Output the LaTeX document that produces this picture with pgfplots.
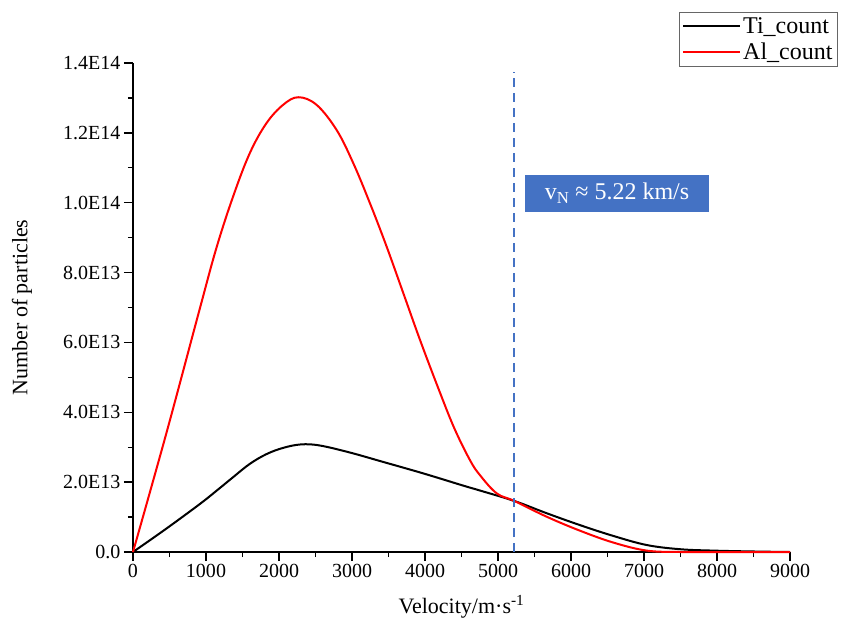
\documentclass[border=0pt]{standalone}
\usepackage{pgfplots}
\pgfplotsset{compat=1.18}
\usepackage{fontspec}
\setmainfont{Liberation Serif}
\definecolor{annblue}{HTML}{4472C4}
\begin{document}
\begin{tikzpicture}[x=1pt,y=1pt]
\begin{axis}[
  name=main,
  at={(0,0)}, anchor=south west,
  width=657pt, height=489pt, scale only axis,
  xmin=0, xmax=9000, ymin=0, ymax=1.4e14,
  axis lines*=left,
  axis line style={line width=1.4pt},
  tick style={line width=1.3pt, black},
  tick align=outside,
  major tick length=9pt, minor tick length=5pt,
  xtick={0,1000,2000,3000,4000,5000,6000,7000,8000,9000},
  minor x tick num=1,
  ytick={0,2e13,4e13,6e13,8e13,1e14,1.2e14,1.4e14},
  yticklabels={0.0,2.0E13,4.0E13,6.0E13,8.0E13,1.0E14,1.2E14,1.4E14},
  minor y tick num=1,
  scaled x ticks=false, scaled y ticks=false,
  xticklabel style={/pgf/number format/.cd, fixed, 1000 sep={}},
  /pgf/number format/assume math mode=true,
  ticklabel style={font=\fontsize{20}{22}\selectfont},
  xlabel={Velocity/m·s\textsuperscript{-1}},
  ylabel={Number of particles},
  xlabel style={at={(axis description cs:0.5,-0.1125)}, anchor=center, font=\fontsize{22}{25}\selectfont},
  ylabel style={at={(axis description cs:-0.169,0.5)}, anchor=center, font=\fontsize{22}{25}\selectfont},
  legend style={at={(axis description cs:1.073,1.104)}, anchor=north east,
    draw=gray!80!black, line width=0.8pt, font=\fontsize{24}{26}\selectfont,
    inner xsep=3pt, inner ysep=3pt, row sep=4pt},
  legend cell align=left,
  legend image code/.code={\draw[#1, line width=2pt] (0pt,0pt) -- (57pt,0pt);},
  clip=false,
]
\addplot[black, line width=2pt, smooth, tension=0.6] coordinates {
(0,0) (457,0.67e13) (913,1.37e13) (1142,1.75e13) (1370,2.14e13) (1598,2.52e13) (1826,2.8e13)
(2055,2.98e13) (2300,3.08e13) (2557,3.05e13) (2968,2.85e13) (3425,2.58e13)
(3977,2.25e13) (4525,1.9e13) (4753,1.76e13) (5225,1.46e13) (5667,1.11e13)
(6123,0.77e13) (6580,0.46e13) (7037,0.2e13) (7493,0.08e13) (7950,0.04e13)
(8500,0.015e13) (9000,0)
};
\addlegendentry{Ti\_count}
\addplot[red, line width=2pt, smooth, tension=0.6] coordinates {
(0,0) (457,3.4e13) (913,6.95e13) (1142,8.7e13) (1370,10.17e13)
(1598,11.41e13) (1826,12.27e13) (2055,12.8e13) (2265,13.02e13)
(2516,12.8e13) (2790,12.08e13) (3018,11.13e13) (3247,9.98e13) (3475,8.74e13)
(3703,7.41e13) (3932,6.07e13) (4180,4.7e13) (4400,3.55e13) (4616,2.63e13)
(4753,2.2e13) (4982,1.68e13) (5225,1.46e13) (5667,1.01e13) (6123,0.61e13)
(6580,0.27e13) (7037,0.04e13) (7493,0) (8000,0) (8500,0) (9000,0)
};
\addlegendentry{Al\_count}
\addplot[annblue, line width=2pt, dash pattern=on 9pt off 6pt, forget plot] coordinates {(5225,0) (5225,1.375e14)};
\end{axis}
\node[fill=annblue, text=white, minimum width=184pt, minimum height=37pt, inner sep=0pt,
  font=\fontsize{24}{26}\selectfont] at (484,358.5) {v\textsubscript{N} ≈ 5.22 km/s};
\pgfresetboundingbox
\path (-133,-91) rectangle (717,552);
\end{tikzpicture}
\end{document}
